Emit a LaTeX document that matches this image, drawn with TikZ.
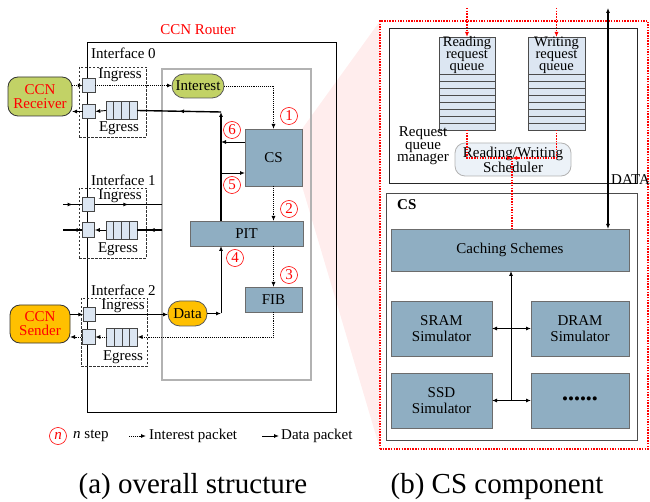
\documentclass[tikz,border=0pt]{standalone}
\usepackage{fontspec}
\setmainfont{Liberation Serif}
\usetikzlibrary{arrows.meta,calc,decorations.markings}
\definecolor{steel}{RGB}{143,174,194}
\definecolor{lblue}{RGB}{220,230,242}
\definecolor{lgreen}{RGB}{194,210,102}
\definecolor{orng}{RGB}{255,192,0}
\definecolor{schedc}{RGB}{236,242,248}
\begin{document}
\begin{tikzpicture}[x=1pt,y=-1pt,
  font=\fontsize{15}{15}\selectfont,
  >={Latex[length=5pt,width=4pt]},
  box/.style={draw, inner sep=0pt, outer sep=0pt},
  sbox/.style={box, fill=steel, draw=gray!85!black, line width=0.8pt},
  sq/.style={box, fill=lblue, draw=gray!55!black, minimum width=12.5, minimum height=14.5, line width=0.6pt},
  queue/.style={box, fill=lblue, draw=gray!55!black, minimum width=31, minimum height=18, line width=0.6pt},
  iface/.style={box, draw=black!80, dash pattern=on 2.5pt off 1.5pt, line width=0.6pt},
  num/.style={circle, draw=red, text=red, minimum size=17, inner sep=0pt, line width=0.6pt, font=\fontsize{15}{15}\selectfont},
  dline/.style={line width=0.9pt},
  thk/.style={line width=1.4pt},
  iline/.style={densely dotted, line width=0.9pt},
  rline/.style={draw=red, dash pattern=on 1.5pt off 1.2pt, line width=1.1pt},
  midarr/.style={postaction={decorate}, decoration={markings, mark=at position 0.5 with {\arrow{Latex[length=5pt,width=4pt]}}}},
  plain/.style={inner sep=0pt}
]
\useasboundingbox (0,0) rectangle (650,502);

% projection shading
\fill[red!7] (302,129) -- (380,21) -- (380,449) -- (302,186) -- cycle;

% ---------------- left: router ----------------
\node[box, draw=black, line width=0.8pt, minimum width=249, minimum height=370] (router) at (211.5,227) {};
\node[text=red] (routerlbl) at (198,30) {CCN Router};
\node[box, draw=gray!60, line width=1.3pt, minimum width=149, minimum height=311] (inner) at (236.5,224.5) {};

% interface 0
\node[iface, minimum width=67, minimum height=70] (if0) at (112.5,102) {};
\node[plain, anchor=west] (if0lbl) at (91,53) {Interface 0};
\node[sq] (in0) at (89,85.5) {};
\node[sq] (eg0) at (89,111.5) {};
\node[queue] (q0) at (121.5,110.5) {};
\node[plain] (in0lbl) at (120,75) {Ingress};
\node[plain] (eg0lbl) at (119,128) {Egress};

% interface 1
\node[iface, minimum width=67, minimum height=70] (if1) at (112.5,223) {};
\node[plain, anchor=west] (if1lbl) at (91,180) {Interface 1};
\node[sq] (in1) at (88.5,204.5) {};
\node[sq] (eg1) at (88.5,230) {};
\node[queue] (q1) at (121.5,230) {};
\node[plain] (in1lbl) at (120,196) {Ingress};
\node[plain] (eg1lbl) at (118,249) {Egress};

% interface 2
\node[iface, minimum width=66, minimum height=68] (if2) at (114,332) {};
\node[plain, anchor=west] (if2lbl) at (91,290) {Interface 2};
\node[sq] (in2) at (89.5,314.5) {};
\node[sq] (eg2) at (89,337) {};
\node[queue] (q2) at (122,337) {};
\node[plain] (in2lbl) at (123,306) {Ingress};
\node[plain] (eg2lbl) at (123,357) {Egress};

\foreach \q in {q0,q1,q2}
  \foreach \k in {0.25,0.5,0.75}
    \draw[gray!55!black, line width=0.6pt] ($(\q.north west)!\k!(\q.north east)$) -- ($(\q.south west)!\k!(\q.south east)$);

% end hosts
\node[box, rounded corners=10pt, fill=lgreen, draw=black!80, line width=0.8pt, minimum width=64, minimum height=39, text=red, align=center, font=\fontsize{15}{14}\selectfont] (recv) at (40,96.5) {CCN\\Receiver};
\node[box, rounded corners=10pt, fill=orng, draw=black!80, line width=0.8pt, minimum width=60, minimum height=38, text=red, align=center, font=\fontsize{15}{14}\selectfont] (sender) at (40,324) {CCN\\Sender};

% inner components
\node[box, rounded corners=12pt, fill=lgreen, draw=gray!70!black, line width=0.8pt, minimum width=52, minimum height=24] (interest) at (198,86) {Interest};
\node[sbox, minimum width=57, minimum height=57] (cs) at (273.5,157.5) {CS};
\node[sbox, minimum width=113, minimum height=25] (pit) at (246.5,233.5) {PIT};
\node[sbox, minimum width=57, minimum height=25] (fib) at (273.5,299.5) {FIB};
\node[box, rounded corners=12pt, fill=orng, draw=gray!70!black, line width=0.8pt, minimum width=39, minimum height=25] (data) at (187.5,313.5) {Data};

\coordinate (j1) at (221,112);
\coordinate (j2) at (221,313.5);
\coordinate (c6) at (245,142);
\coordinate (c5) at (245,173);
\coordinate (l1a) at (63,204.5);
\coordinate (l1b) at (63,230);

% interface 0 connectors
\draw[iline,->] (recv.east |- in0.center) -- (in0.west);
\draw[dline,->] (eg0.west) -- (recv.east |- eg0.center);
\draw[iline,->] (in0.east) -- (in0.east -| interest.west);
\draw[iline,->] (interest.east) -| (cs.north);
\draw[thk,->] (pit.north -| j1) -- (j1);
\draw[thk,midarr] (j1) -- (q0.east);
\draw[dline,->] (q0.west) -- (eg0.east);
\draw[dline,->] (c6) -- (c6 -| j1);
\draw[dline,->] (c5 -| j1) -- (c5);
\draw[iline,->] (cs.south) -- (cs.south |- pit.north);
\draw[iline,->] (fib.north |- pit.south) -- (fib.north);
\draw[iline,->] (fib.south) |- (q2.east);
\draw[dline,->] (data.east) -- (j2);
\draw[dline,->] (j2) -- (pit.south -| j2);

% interface 1 connectors
\draw[thk,midarr] (l1a) -- (in1.west);
\draw[thk,midarr] (in1.east) -- (in1.east -| inner.west);
\draw[thk,midarr] (q1.east -| inner.west) -- (q1.east);
\draw[dline,->] (q1.west) -- (eg1.east);
\draw[thk,midarr] (eg1.west) -- (l1b);

% interface 2 connectors
\draw[dline,->] (sender.east |- in2.center) -- (in2.west);
\draw[iline,->] (eg2.west) -- (sender.east |- eg2.center);
\draw[dline,->] (in2.east) -- (in2.east -| data.west);
\draw[iline,->] (q2.west) -- (eg2.east);

% step numbers
\node[num] (n1) at (289,116) {1};
\node[num] (n2) at (289,209) {2};
\node[num] (n3) at (289,275) {3};
\node[num] (n4) at (235,258) {4};
\node[num] (n5) at (232,185) {5};
\node[num] (n6) at (232,130) {6};

% legend
\node[num, font=\itshape\fontsize{15}{15}\selectfont] (lgn) at (58,436) {n};
\node[plain, anchor=west] (lgstep) at (73,436) {\textit{n} step};
\coordinate (la1) at (129,436);
\coordinate (la2) at (146,436);
\draw[iline,->] (la1) -- (la2);
\node[plain, anchor=west] (lgint) at (149,436) {Interest packet};
\coordinate (lb1) at (262,436);
\coordinate (lb2) at (279,436);
\draw[dline,->] (lb1) -- (lb2);
\node[plain, anchor=west] (lgdata) at (281,436) {Data packet};

% captions
\node[font=\fontsize{29}{29}\selectfont] (capa) at (193,487) {(a) overall structure};
\node[font=\fontsize{29}{29}\selectfont] (capb) at (497,487) {(b) CS component};

% ---------------- right: CS component ----------------
\node[box, draw=red, dash pattern=on 1.5pt off 1.2pt, line width=1.2pt, minimum width=268, minimum height=428] (redbox) at (514,235) {};
\node[box, draw=black!85, line width=0.8pt, minimum width=248, minimum height=155] (rqm) at (513,105.5) {};
\node[box, draw=black!70, line width=1pt, minimum width=251, minimum height=246] (csbig) at (511.5,317) {};

\node[box, fill=lblue, draw=gray!60!black, line width=0.6pt, minimum width=56, minimum height=93] (rq) at (467,83.5) {};
\node[box, fill=lblue, draw=gray!60!black, line width=0.6pt, minimum width=57, minimum height=93] (wq) at (556.5,83.5) {};
\foreach \qq in {rq,wq}
  \foreach \k in {0,...,7}
    \draw[gray!60!black, line width=0.6pt] ($(\qq.north west)+(0,37+7*\k)$) -- ($(\qq.north east)+(0,37+7*\k)$);
\node[plain, align=center, font=\fontsize{14.5}{12}\selectfont] (rqlbl) at (467,55) {Reading\\request\\queue};
\node[plain, align=center, font=\fontsize{14.5}{12}\selectfont] (wqlbl) at (556.5,55) {Writing\\request\\queue};

\node[box, rounded corners=10pt, fill=schedc, draw=gray!60, line width=0.8pt, minimum width=116, minimum height=33, align=center] (sched) at (513,159.5) {Reading/Writing\\Scheduler};
\node[plain, align=center, font=\fontsize{15}{12.5}\selectfont] (rqmlbl) at (423,146) {Request\\queue\\manager};

\node[plain, anchor=west, font=\bfseries\fontsize{15}{15}\selectfont] (cslbl) at (397,205) {CS};
\node[sbox, minimum width=238, minimum height=42] (cach) at (510,250) {Caching Schemes};
\node[sbox, minimum width=101, minimum height=55, align=center, font=\fontsize{15}{16}\selectfont] (sram) at (441.5,328.5) {SRAM\\Simulator};
\node[sbox, minimum width=98, minimum height=55, align=center, font=\fontsize{15}{16}\selectfont] (dram) at (580,328.5) {DRAM\\Simulator};
\node[sbox, minimum width=101, minimum height=55, align=center, font=\fontsize{15}{16}\selectfont] (ssd) at (441.5,400.5) {SSD\\Simulator};
\node[sbox, minimum width=98, minimum height=55, font=\fontsize{17}{17}\selectfont] (dots) at (580,400.5) {••••••};

% red request flow
\coordinate (rtop1) at (467,8);
\coordinate (rtop2) at (556.5,8);
\coordinate (rj) at (512,158);
\draw[rline,->] (rtop1) -- (rq.north);
\draw[rline,->] (rtop2) -- (wq.north);
\draw[rline,->] (rq.south) |- (rj);
\draw[rline,->] (wq.south) |- (rj);
\draw[rline] (rj) -- (rj |- cach.north);

% DATA
\coordinate (dtop) at (608,8);
\draw[line width=1.6pt, <->] (dtop) -- (dtop |- cach.north);
\node[plain, anchor=west] (datalbl) at (611,180) {DATA};

% simulators
\coordinate (vb) at (511,400.5);
\draw[dline,->] (vb) -- (vb |- cach.south);
\draw[dline,<->] (sram.east) -- (dram.west);
\draw[dline,<->] (ssd.east) -- (dots.west);
\end{tikzpicture}
\end{document}
